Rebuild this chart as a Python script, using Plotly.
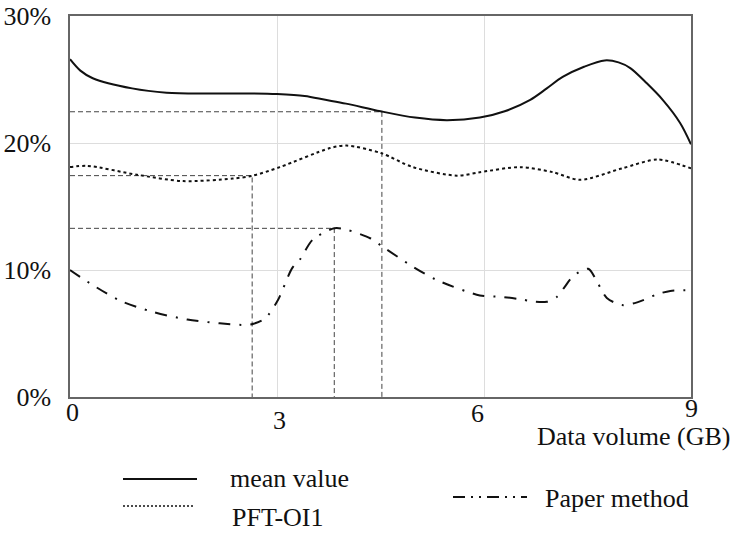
import plotly.graph_objects as go

# ---- data ----
mean_x = [0, 0.15, 0.33, 0.9, 1.4, 2.0, 2.6, 3.0, 3.4, 3.7, 4.0, 4.5, 5.0, 5.46, 5.94, 6.3, 6.67, 6.91, 7.14, 7.45, 7.75, 7.95, 8.12, 8.36, 8.59, 8.84, 9.0]
mean_y = [26.6, 25.7, 25.1, 24.3, 23.96, 23.9, 23.9, 23.85, 23.7, 23.4, 23.1, 22.5, 22.0, 21.8, 22.0, 22.5, 23.4, 24.3, 25.2, 26.0, 26.5, 26.35, 25.9, 24.7, 23.4, 21.6, 19.9]

pft_x = [0, 0.25, 0.97, 1.64, 2.36, 2.65, 3.04, 3.77, 4.01, 4.51, 4.97, 5.61, 5.94, 6.52, 7.0, 7.39, 8.0, 8.52, 9.0]
pft_y = [18.1, 18.2, 17.5, 17.0, 17.2, 17.43, 18.1, 19.6, 19.8, 19.2, 18.1, 17.43, 17.7, 18.1, 17.7, 17.1, 18.0, 18.7, 18.0]

paper_x = [0, 0.29, 0.72, 1.2, 1.7, 2.17, 2.55, 2.65, 2.83, 3.01, 3.22, 3.33, 3.52, 3.83, 3.99, 4.35, 4.54, 4.97, 5.32, 5.94,
           6.23, 6.52, 6.74, 6.91, 7.06, 7.16, 7.29, 7.51, 7.65, 7.78, 8.0, 8.22, 8.51, 8.7, 9.0]
paper_y = [10.0, 8.95, 7.6, 6.7, 6.1, 5.8, 5.67, 5.75, 6.2, 7.6, 10.15, 10.8, 12.4, 13.28, 13.2, 12.5, 11.8, 10.26, 9.2, 8.0,
           7.9, 7.7, 7.5, 7.5, 7.9, 8.6, 9.5, 10.1, 8.95, 7.8, 7.24, 7.45, 8.09, 8.35, 8.4]

# reference guide points (x in GB, y in %)
guide_x = [4.52, 2.64, 3.83]
guide_y = [22.46, 17.43, 13.28]

x_ticks = [0, 3, 6, 9]
y_ticks = [0, 10, 20, 30]
y_tick_text = ["0%", "10%", "20%", "30%"]
series_names = ["mean value", "PFT-OI1", "Paper method"]
x_title = "Data volume (GB)"

FONT = "Liberation Serif"
FS = 26
INK = "#111111"

# plot-area geometry in pixels (for placing free text/legend in paper coords)
L, R, T, B = 70, 691, 16, 397
XMIN, XMAX = 0, 9


def px(xp):
    return (xp - L) / (R - L)


def py(yp):
    return (B - yp) / (B - T)


def xdata_to_paper(v):
    return (v - XMIN) / (XMAX - XMIN)


fig = go.Figure()

# guide lines
for gx, gy in zip(guide_x, guide_y):
    fig.add_trace(go.Scatter(x=[0, gx, gx], y=[gy, gy, 0], mode="lines",
                             line=dict(color="#444444", width=1, dash="5px,3px"),
                             showlegend=False, hoverinfo="skip"))

fig.add_trace(go.Scatter(x=mean_x, y=mean_y, mode="lines", name=series_names[0],
                         line=dict(color=INK, width=2, shape="spline", smoothing=0.9)))
fig.add_trace(go.Scatter(x=pft_x, y=pft_y, mode="lines", name=series_names[1],
                         line=dict(color=INK, width=2, dash="3px,3px", shape="spline", smoothing=0.8)))
fig.add_trace(go.Scatter(x=paper_x, y=paper_y, mode="lines", name=series_names[2],
                         line=dict(color=INK, width=2, dash="12px,9px,2px,9px", shape="spline", smoothing=0.8)))

# staggered x tick labels (as in the reference)
x_label_pos = [0.03, 3.03, 5.9, 9.01]
x_label_py = [412, 421, 413, 408]
for lx, lt, yp in zip(x_label_pos, x_ticks, x_label_py):
    fig.add_annotation(x=xdata_to_paper(lx), y=py(yp), xref="paper", yref="paper",
                       xanchor="center", yanchor="middle",
                       text=str(lt), showarrow=False, font=dict(family=FONT, size=FS, color=INK))

fig.add_annotation(x=px(733), y=py(436), xref="paper", yref="paper", xanchor="right", yanchor="middle",
                   text=x_title, showarrow=False, font=dict(family=FONT, size=FS, color=INK))

# legend (manual layout)
legend_items = [
    (123, 197, 479, 228, 478, dict(color=INK, width=2)),
    (123, 193, 506, 230, 517, dict(color=INK, width=1.5, dash="2px,2px")),
    (453, 527, 497, 543, 498, dict(color=INK, width=2, dash="12px,6px,2px,6px,2px,6px")),
]
for (x0, x1, ly, tx, ty, ln), name in zip(legend_items, series_names):
    fig.add_shape(type="line", xref="paper", yref="paper", x0=px(x0), x1=px(x1),
                  y0=py(ly), y1=py(ly), line=ln)
    fig.add_annotation(x=px(tx), y=py(ty), xref="paper", yref="paper", xanchor="left", yanchor="middle",
                       text=name, showarrow=False, font=dict(family=FONT, size=FS, color=INK))

fig.update_layout(
    width=739, height=536,
    margin=dict(l=L, r=739 - R, t=T, b=536 - B, autoexpand=False),
    paper_bgcolor="white", plot_bgcolor="white",
    showlegend=False,
    font=dict(family=FONT, size=FS, color=INK),
)
fig.update_xaxes(range=[XMIN, XMAX], tickvals=x_ticks, showticklabels=False, ticks="", automargin=False,
                 showgrid=True, gridcolor="#dddddd", gridwidth=1,
                 showline=True, mirror=True, linecolor="#666666", linewidth=1.5, zeroline=False)
fig.update_yaxes(range=[0, 30], tickvals=y_ticks, ticktext=y_tick_text, ticks="", automargin=False,
                 ticklabelstandoff=12,
                 tickfont=dict(family=FONT, size=FS, color=INK),
                 showgrid=True, gridcolor="#dddddd", gridwidth=1,
                 showline=True, mirror=True, linecolor="#666666", linewidth=1.5, zeroline=False)

fig.write_html("out.html")
